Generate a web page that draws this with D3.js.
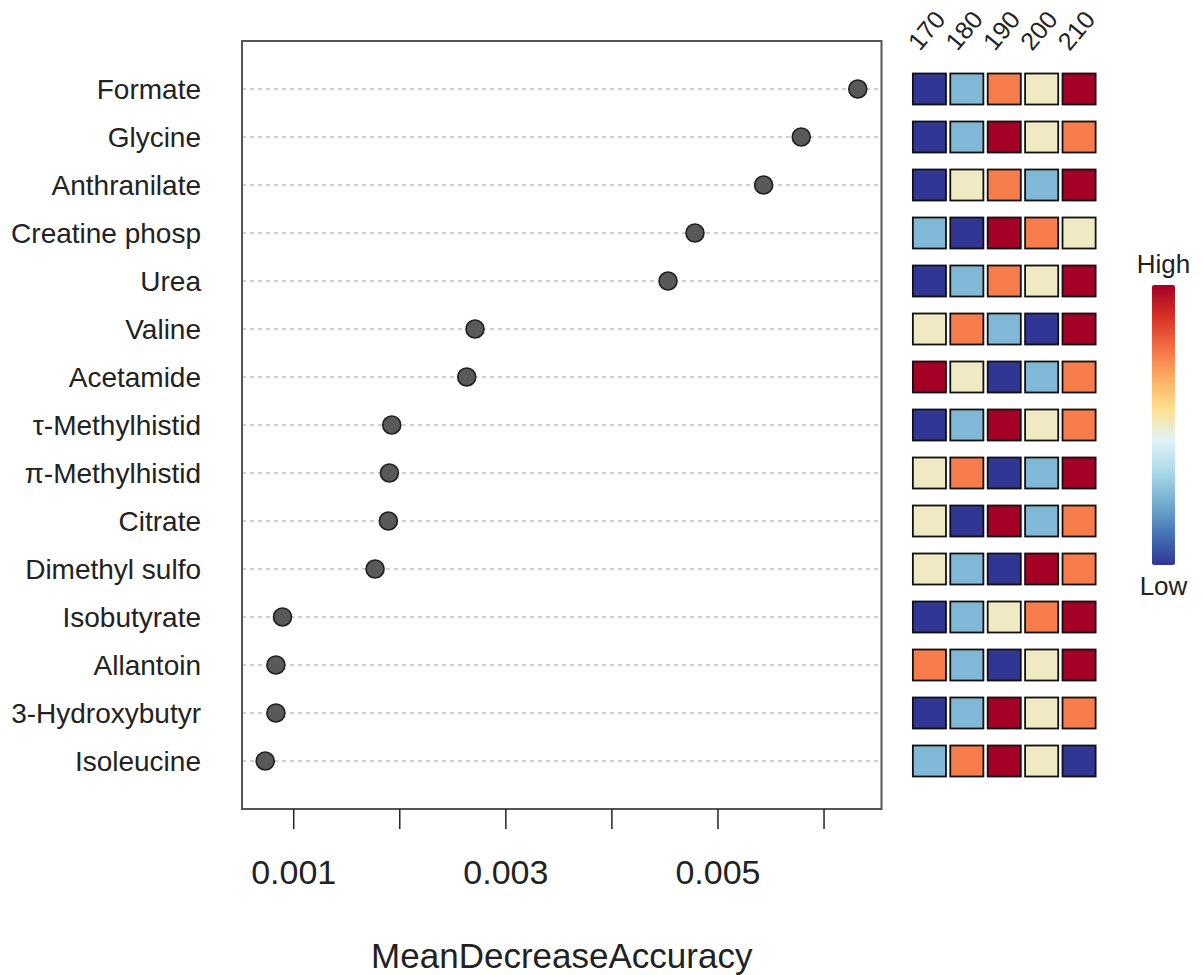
<!DOCTYPE html>
<html>
<head>
<meta charset="utf-8">
<script src="https://cdn.jsdelivr.net/npm/d3@7"></script>
<style>
  body { margin: 0; background: #fff; }
  svg { display: block; font-family: "Liberation Sans", Arial, sans-serif; }
</style>
</head>
<body>
<svg id="chart" width="1203" height="975"></svg>
<script>
// ---- data ----
const features = ["Formate", "Glycine", "Anthranilate", "Creatine phosp", "Urea", "Valine",
  "Acetamide", "τ-Methylhistid", "π-Methylhistid", "Citrate", "Dimethyl sulfo",
  "Isobutyrate", "Allantoin", "3-Hydroxybutyr", "Isoleucine"];
const importance = [0.006323, 0.005790, 0.005435, 0.004788, 0.004534, 0.002714,
  0.002636, 0.001929, 0.001907, 0.001897, 0.001772, 0.000899, 0.000837, 0.000837, 0.000736];
const heatCols = ["170", "180", "190", "200", "210"];
// relative level (1 = low ... 5 = high) per feature and group
const heatLevels = [
  [1, 2, 4, 3, 5],
  [1, 2, 5, 3, 4],
  [1, 3, 4, 2, 5],
  [2, 1, 5, 4, 3],
  [1, 2, 4, 3, 5],
  [3, 4, 2, 1, 5],
  [5, 3, 1, 2, 4],
  [1, 2, 5, 3, 4],
  [3, 4, 1, 2, 5],
  [3, 1, 5, 2, 4],
  [3, 2, 1, 5, 4],
  [1, 2, 3, 4, 5],
  [4, 2, 1, 3, 5],
  [1, 2, 5, 3, 4],
  [2, 4, 5, 3, 1]
];
const xTicks = [0.001, 0.002, 0.003, 0.004, 0.005, 0.006];
const xTickLabels = ["0.001", "", "0.003", "", "0.005", ""];
const legendLabels = ["High", "Low"];
const paletteColors = ["#313695", "#4575b4", "#74add1", "#abd9e9", "#e0f3f8",
  "#fee090", "#fdae61", "#f46d43", "#d73027", "#a50026"];

// ---- layout ----
const svg = d3.select("#chart");
const box = { left: 242, right: 881.5, top: 41, bottom: 809 };
const n = features.length;

const [mn, mx] = d3.extent(importance);
const pad = (mx - mn) * 0.04;
const x = d3.scaleLinear().domain([mn - pad, mx + pad]).range([box.left - 0.5, box.right]);
const y = d3.scaleLinear().domain([0, n + 1]).range([box.bottom, box.top]);
const rowPos = i => y(n - i);

const interp = d3.piecewise(d3.interpolateRgb, paletteColors);
const color = d3.scaleLinear().domain([1, 5]).range([0, 1]);
const colorOf = v => interp(color(v));

// gridlines
svg.append("g").selectAll("line").data(features).join("line")
  .attr("x1", box.left).attr("x2", box.right)
  .attr("y1", (d, i) => rowPos(i)).attr("y2", (d, i) => rowPos(i))
  .attr("stroke", "#c4c4c4").attr("stroke-width", 1.5)
  .attr("stroke-dasharray", "4,4");

// box
svg.append("rect")
  .attr("x", box.left).attr("y", box.top)
  .attr("width", box.right - box.left).attr("height", box.bottom - box.top)
  .attr("fill", "none").attr("stroke", "#555").attr("stroke-width", 2);

// dots
svg.append("g").selectAll("circle").data(importance).join("circle")
  .attr("cx", d => x(d)).attr("cy", (d, i) => rowPos(i))
  .attr("r", 9)
  .attr("fill", "#595959").attr("stroke", "#1e1e1e").attr("stroke-width", 1.6);

// feature labels
svg.append("g").selectAll("text").data(features).join("text")
  .attr("x", 201).attr("y", (d, i) => rowPos(i) + 10)
  .attr("text-anchor", "end")
  .attr("font-size", 28).attr("fill", "#222")
  .text(d => d);

// x axis
const axis = d3.axisBottom(x).tickValues(xTicks).tickSize(20).tickPadding(31)
  .tickFormat((d, i) => xTickLabels[i]);
const gx = svg.append("g").attr("transform", `translate(0,${box.bottom})`).call(axis);
gx.select(".domain").remove();
gx.selectAll(".tick line").attr("stroke", "#222").attr("stroke-width", 1.5);
gx.selectAll(".tick text").attr("font-size", 34).attr("fill", "#222")
  .attr("font-family", "Liberation Sans, Arial, sans-serif");

// x title
svg.append("text")
  .attr("x", (box.left + box.right) / 2).attr("y", 968)
  .attr("text-anchor", "middle").attr("font-size", 35).attr("fill", "#222")
  .text("MeanDecreaseAccuracy");

// heatmap
const hx = d3.scaleBand().domain(heatCols).range([911, 1097.5]).paddingInner(0.115).paddingOuter(0.05);
const cellH = 31;
const cells = [];
heatLevels.forEach((row, i) => row.forEach((v, j) => cells.push({ i, j, v })));
svg.append("g").selectAll("rect").data(cells).join("rect")
  .attr("x", d => hx(heatCols[d.j]))
  .attr("y", d => rowPos(d.i) - cellH / 2)
  .attr("width", hx.bandwidth()).attr("height", cellH)
  .attr("fill", d => colorOf(d.v))
  .attr("stroke", "#111").attr("stroke-width", 1.8);

// heatmap column labels
svg.append("g").selectAll("text").data(heatCols).join("text")
  .attr("transform", d => `translate(${hx(d) + 7},${52}) rotate(-50)`)
  .attr("font-size", 25).attr("fill", "#222")
  .text(d => d);

// colour bar
const defs = svg.append("defs");
const grad = defs.append("linearGradient").attr("id", "cbar")
  .attr("x1", 0).attr("y1", 1).attr("x2", 0).attr("y2", 0);
grad.selectAll("stop").data(paletteColors).join("stop")
  .attr("offset", (d, i) => i / (paletteColors.length - 1))
  .attr("stop-color", d => d);
const cb = { x: 1152, y: 285, w: 23, h: 280 };
svg.append("rect")
  .attr("x", cb.x).attr("y", cb.y).attr("width", cb.w).attr("height", cb.h)
  .attr("rx", 2).attr("fill", "url(#cbar)");
svg.append("text").attr("x", cb.x + cb.w / 2).attr("y", 273)
  .attr("text-anchor", "middle").attr("font-size", 26).attr("fill", "#222")
  .text(legendLabels[0]);
svg.append("text").attr("x", cb.x + cb.w / 2).attr("y", 595)
  .attr("text-anchor", "middle").attr("font-size", 26).attr("fill", "#222")
  .text(legendLabels[1]);
</script>
</body>
</html>
